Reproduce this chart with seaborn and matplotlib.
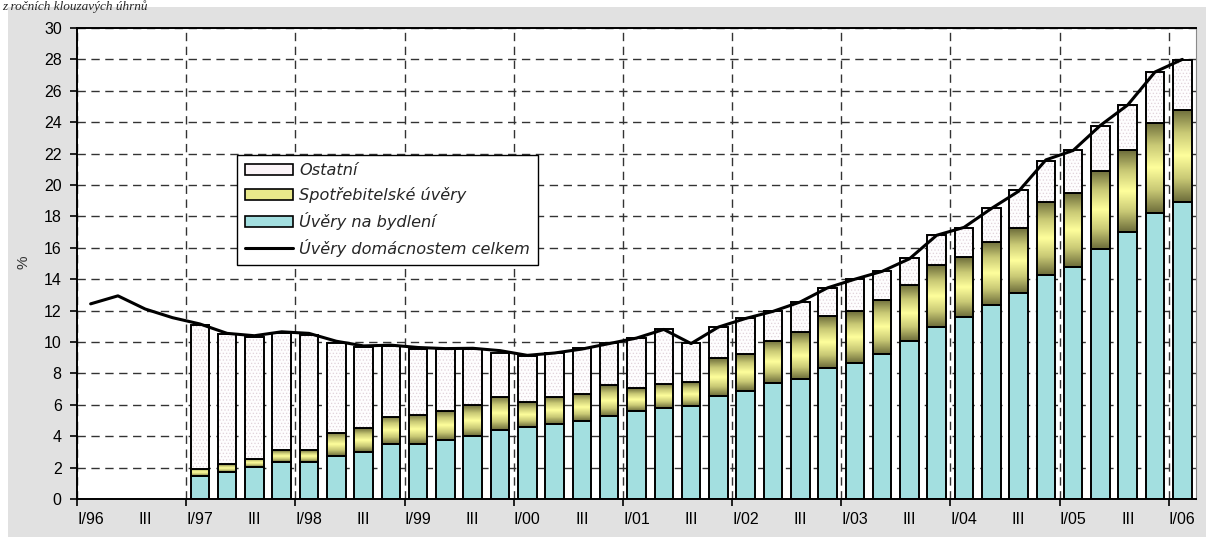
import numpy as np
import pandas as pd
import matplotlib
matplotlib.use("Agg")
import matplotlib.pyplot as plt
import seaborn as sns
from matplotlib.colors import LinearSegmentedColormap, to_rgba
from matplotlib.patches import Rectangle, Patch
from matplotlib.lines import Line2D

# ---------------- data ----------------
roman = ["I", "II", "III", "IV"]
years = ["96", "97", "98", "99", "00", "01", "02", "03", "04", "05", "06"]
quarters = [f"{r}/{y}" for y in years for r in roman][:41]          # I/96 .. I/06
tick_labels = [("I/" + q.split("/")[1]) if q.startswith("I/") else "III"
               for q in quarters[::2]]

bar_quarters = quarters[4:]                                           # I/97 .. I/06

# Úvěry na bydlení (housing loans)
housing = [1.47, 1.74, 2.04, 2.38, 2.38, 2.76, 3.02, 3.48,
           3.48, 3.76, 4.04, 4.40, 4.61, 4.78, 4.95, 5.31,
           5.59, 5.78, 5.93, 6.58, 6.86, 7.39, 7.67, 8.33,
           8.69, 9.24, 10.07, 10.98, 11.62, 12.36, 13.15, 14.25,
           14.80, 15.91, 17.01, 18.20, 18.93]
# Spotřebitelské úvěry (consumer loans)
consumer = [0.46, 0.49, 0.53, 0.74, 0.74, 1.47, 1.50, 1.77,
            1.85, 1.85, 1.93, 2.12, 1.55, 1.74, 1.74, 1.93,
            1.46, 1.53, 1.50, 2.38, 2.36, 2.70, 2.95, 3.31,
            3.28, 3.46, 3.55, 3.93, 3.82, 4.02, 4.10, 4.68,
            4.68, 5.01, 5.19, 5.74, 5.86]
# Ostatní (other)
other = [9.16, 8.26, 7.77, 7.44, 7.33, 5.73, 5.14, 4.52,
         4.23, 3.95, 3.59, 2.80, 2.95, 2.80, 2.91, 2.72,
         3.19, 3.50, 2.49, 2.02, 2.29, 1.89, 1.95, 1.83,
         2.03, 1.85, 1.74, 1.91, 1.85, 2.16, 2.40, 2.63,
         2.72, 2.85, 2.91, 3.23, 3.18]
# Úvěry domácnostem celkem (total household loans), I/96 .. I/06
total = [12.43, 12.94, 12.10, 11.55,
         11.15, 10.55, 10.40, 10.65,
         10.55, 10.05, 9.75, 9.80,
         9.65, 9.58, 9.60, 9.45,
         9.15, 9.30, 9.55, 9.90,
         10.25, 10.80, 9.90, 10.95,
         11.50, 11.95, 12.55, 13.45,
         14.00, 14.50, 15.30, 16.80,
         17.30, 18.50, 19.60, 21.60,
         22.20, 23.80, 25.10, 27.20,
         28.00]

caption = "z ročních klouzavých úhrnů"
legend_labels = ["Ostatní", "Spotřebitelské úvěry", "Úvěry na bydlení",
                 "Úvěry domácnostem celkem"]

# ---------------- style ----------------
sns.set_theme(style="white")
plt.rcParams["font.family"] = ["Liberation Sans", "DejaVu Sans"]
plt.rcParams["hatch.linewidth"] = 0.5

W, H = 1206, 537
fig = plt.figure(figsize=(W / 100, H / 100), dpi=100)
fig.patch.set_facecolor("white")
fig.patches.append(Rectangle((8 / W, 0), 1 - 8 / W, 1 - 7 / H,
                             transform=fig.transFigure, facecolor="#e1e1e1",
                             edgecolor="none", zorder=-10))

ax = fig.add_axes([77 / W, 1 - 499 / H, (1196 - 77) / W, (499 - 28) / H])
ax.set_facecolor("white")

df = pd.DataFrame({"q": bar_quarters,
                   "housing": housing,
                   "consumer": consumer,
                   "other": other})
df["b1"] = df["housing"]
df["b2"] = df["housing"] + df["consumer"]

bw = 0.68
lw = 1.4

# housing
sns.barplot(data=df, x="q", y="housing", order=quarters, color="#a3dfe0",
            saturation=1, width=bw, edgecolor="black", linewidth=lw,
            errorbar=None, ax=ax)
n0 = len(ax.patches)
# consumer (gradient filled)
sns.barplot(data=df, x="q", y="consumer", order=quarters, color="#ffff99",
            saturation=1, width=bw, edgecolor="black", linewidth=lw,
            errorbar=None, bottom=df["b1"].to_numpy(), ax=ax)
cons_patches = ax.patches[n0:]
n1 = len(ax.patches)
# other (dotted)
sns.barplot(data=df, x="q", y="other", order=quarters, color="#fefdfe",
            saturation=1, width=bw, edgecolor="black", linewidth=lw,
            errorbar=None, bottom=df["b2"].to_numpy(), hatch=".....", ax=ax)
other_patches = ax.patches[n1:]
for p in other_patches:
    try:
        p.set_hatchcolor("#e0d2da")
    except AttributeError:
        p._hatch_color = to_rgba("#e0d2da")

ycmap = LinearSegmentedColormap.from_list(
    "olive", ["#6c6c3a", "#c9c975", "#ffff9c", "#c9c975", "#6c6c3a"])
grad = np.linspace(0, 1, 128).reshape(-1, 1)
for p in cons_patches:
    x0, y0, w, h = p.get_x(), p.get_y(), p.get_width(), p.get_height()
    im = ax.imshow(grad, cmap=ycmap, aspect="auto", origin="lower",
                   extent=(x0, x0 + w, y0, y0 + h), interpolation="bilinear",
                   zorder=p.get_zorder() - 0.05)
    im.set_clip_path(p)
    p.set_facecolor("none")

# total line
sns.lineplot(x=np.arange(len(quarters)), y=total, color="black", linewidth=2.2,
             ax=ax, legend=False, zorder=5)

# ---------------- axes ----------------
ax.set_xlim(-0.5, len(quarters) - 0.5)
ax.set_ylim(0, 30)
ax.set_aspect("auto")
ax.set_yticks(np.arange(0, 31, 2))
ax.set_xticks(np.arange(0, len(quarters), 2))
ax.set_xticklabels(tick_labels)
ax.set_xticks(np.arange(-0.5, len(quarters) - 0.5, 4), minor=True)
ax.set_xlabel("")
ax.tick_params(axis="x", which="major", length=0, pad=9, labelsize=11.5,
               colors="black")
ax.tick_params(axis="x", which="minor", length=5, width=1.2, direction="out",
               color="black", bottom=True)
ax.tick_params(axis="y", which="major", length=5, width=1.2, direction="out",
               left=True, pad=6, labelsize=11.5, colors="black")

ax.set_axisbelow(True)
ax.grid(False)
ax.yaxis.grid(True, which="major", linestyle=(0, (6, 4)), linewidth=1.0,
              color="#333333")
ax.xaxis.grid(True, which="minor", linestyle=(0, (6, 4)), linewidth=1.0,
              color="#333333")

for s in ["left", "bottom", "top"]:
    ax.spines[s].set_color("black")
    ax.spines[s].set_linewidth(1.4)
ax.spines["right"].set_color("#8a8a8a")
ax.spines["right"].set_linewidth(0.8)

ax.set_ylabel("%", fontsize=11, color="#333333")
ax.yaxis.set_label_coords((30 - 77) / (1196 - 77), 0.503)

# ---------------- legend ----------------
handles = [
    Patch(facecolor="#fbf4f7", edgecolor="black", linewidth=1.2),
    Patch(facecolor="#e8e88a", edgecolor="black", linewidth=1.2),
    Patch(facecolor="#a3dfe0", edgecolor="black", linewidth=1.2),
    Line2D([0], [0], color="black", linewidth=2.2),
]
leg = ax.legend(handles, legend_labels, loc="upper left",
                bbox_to_anchor=(237 / W, 1 - 155 / H),
                bbox_transform=fig.transFigure, borderaxespad=0,
                frameon=True, fancybox=False, framealpha=1,
                edgecolor="black", handlelength=3.0, handleheight=0.7,
                handletextpad=0.35, labelspacing=0.55, borderpad=0.5,
                prop={"family": ["DejaVu Sans"], "style": "italic",
                      "size": 11.6})
leg.get_frame().set_linewidth(1.0)

fig.text(2 / W, 1 - 0.5 / H, caption, family="Liberation Serif",
         style="italic", fontsize=9.5, va="top", ha="left")

fig.savefig("out.png", dpi=100, facecolor=fig.get_facecolor())
